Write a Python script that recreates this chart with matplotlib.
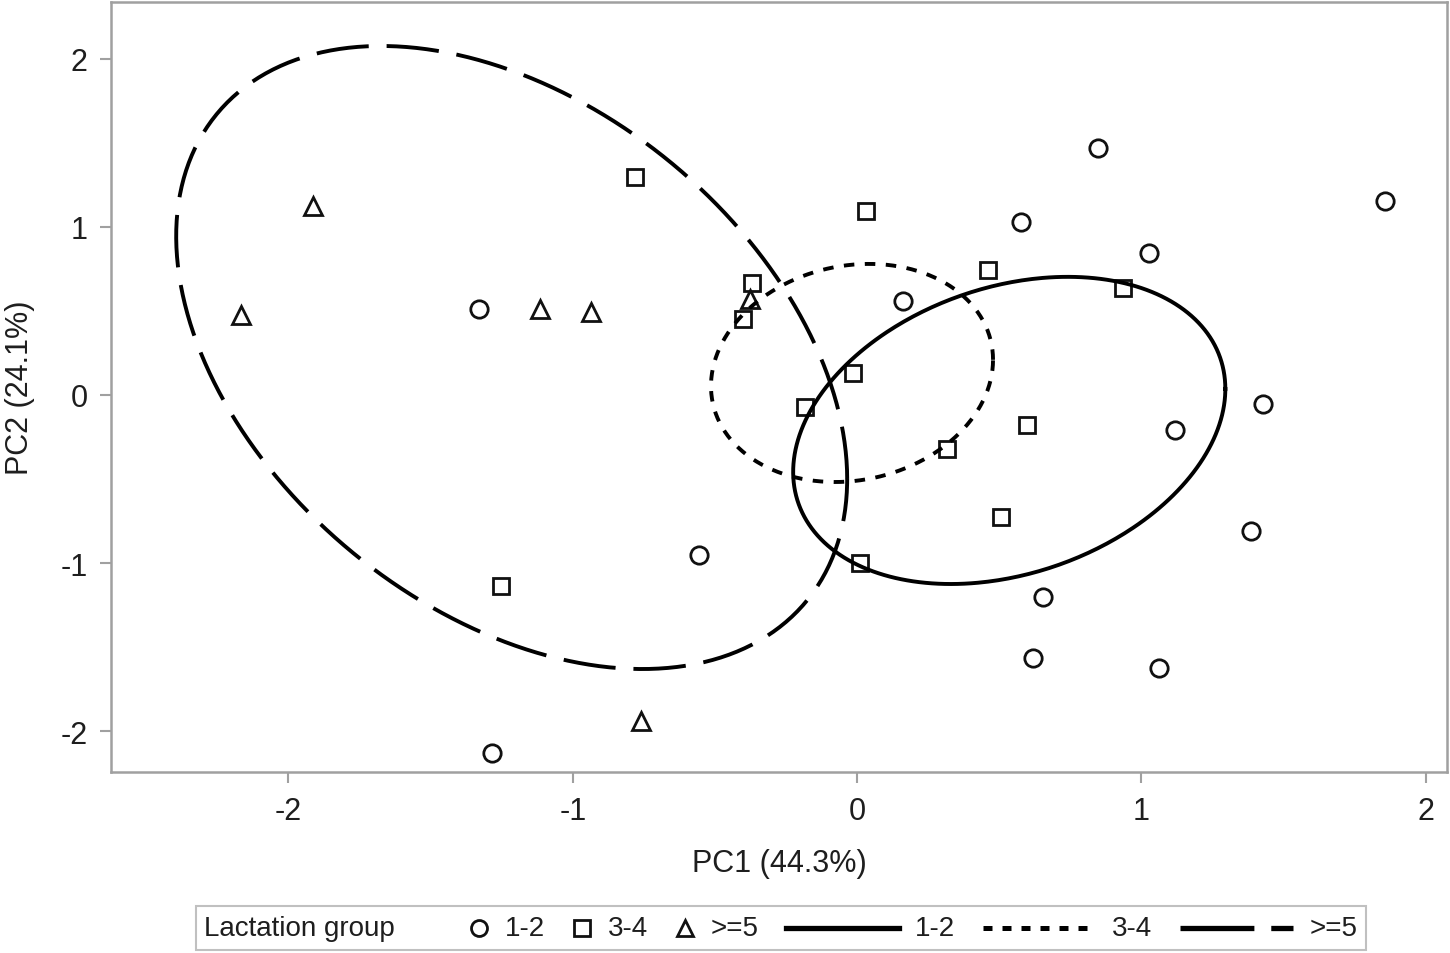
import numpy as np
import matplotlib
matplotlib.use("Agg")
import matplotlib.pyplot as plt
from matplotlib.lines import Line2D
from matplotlib.offsetbox import HPacker, TextArea, DrawingArea, AnchoredOffsetbox

plt.rcParams['font.family'] = ['Liberation Sans', 'DejaVu Sans']

# PCA scores
pc1_12 = [0.848, 1.857, 0.577, 1.027, 0.162, -1.330, 1.428, 1.119, 1.386, -0.556, 0.654, 0.619, 1.062, -1.284]
pc2_12 = [1.470, 1.155, 1.030, 0.845, 0.560, 0.512, -0.054, -0.208, -0.810, -0.952, -1.202, -1.565, -1.625, -2.131]
pc1_34 = [-0.781, 0.032, -0.369, 0.461, 0.936, -0.401, -0.014, -0.183, 0.598, 0.317, 0.507, 0.011, -1.252]
pc2_34 = [1.298, 1.095, 0.667, 0.744, 0.637, 0.452, 0.131, -0.071, -0.179, -0.321, -0.726, -1.000, -1.137]
pc1_5 = [-1.913, -2.167, -1.115, -0.936, -0.376, -0.760]
pc2_5 = [1.125, 0.476, 0.512, 0.494, 0.571, -1.940]

# confidence ellipses: centre x, centre y, half-width x, half-height y, phase
ell_12 = (0.535, -0.211, 0.760, 0.914, 1.297)
ell_34 = (-0.018, 0.131, 0.496, 0.649, 1.45)
ell_5 = (-1.215, 0.223, 1.180, 1.854, 1.971)

groups = ["1-2", "3-4", ">=5"]
txt = '#1e1e1e'
grey = '#a0a0a0'
dash_long = (0, (13.5, 4.6))
dotted = (0, (2.7, 2.7))

def ellipse_xy(p):
    cx, cy, a, b, ph = p
    t = np.linspace(0, 2 * np.pi, 400)
    return cx + a * np.cos(t), cy + b * np.cos(t - ph)

fig = plt.figure(figsize=(14.5, 9.54), dpi=100)
ax = fig.add_axes([0.0766, 0.1897, 0.9214, 0.8072])

mk = dict(linestyle='none', markerfacecolor='none', markeredgecolor='#111', markeredgewidth=2.0)
ax.plot(pc1_12, pc2_12, marker='o', markersize=12.5, **mk)
ax.plot(pc1_34, pc2_34, marker='s', markersize=12, **mk)
ax.plot(pc1_5, pc2_5, marker='^', markersize=12.5, **mk)

x, y = ellipse_xy(ell_12)
ax.plot(x, y, color='black', lw=2.8, linestyle='-')
x, y = ellipse_xy(ell_34)
ax.plot(x, y, color='black', lw=2.8, linestyle=dotted)
x, y = ellipse_xy(ell_5)
ax.plot(x, y, color='black', lw=2.8, linestyle=dash_long)

ax.set_xlim(-2.624, 2.075)
ax.set_ylim(-2.244, 2.339)
ax.set_xticks([-2, -1, 0, 1, 2])
ax.set_yticks([-2, -1, 0, 1, 2])
ax.set_xticklabels(['-2', '-1', '0', '1', '2'])
ax.set_yticklabels(['-2', '-1', '0', '1', '2'])
ax.tick_params(length=8, width=1.5, color=grey, labelsize=22, labelcolor=txt, pad=9)
for s in ax.spines.values():
    s.set_color(grey)
    s.set_linewidth(1.8)
ax.set_xlabel("PC1 (44.3%)", fontsize=22, color=txt, labelpad=16)
ax.set_ylabel("PC2 (24.1%)", fontsize=22, color=txt, labelpad=18)

# legend strip along the bottom
fs = 20
def marker_box(m, ms):
    da = DrawingArea(13, 14, 0, 0)
    da.add_artist(Line2D([6.5], [7], marker=m, markersize=ms, **mk))
    return da

def line_box(ls, lw=3.8):
    da = DrawingArea(81, 14, 0, 0)
    da.add_artist(Line2D([0, 81], [7, 7], color='black', lw=lw, linestyle=ls))
    return da

tp = dict(size=fs, color=txt)
handles = [marker_box('o', 11.5), marker_box('s', 11), marker_box('^', 11.5),
           line_box('-'), line_box((0, (1.8, 2.0)), 3.6), line_box((0, (14, 3.2, 4.6, 3.2)))]
labels = groups + groups
pairs = [HPacker(children=[h, TextArea(l, textprops=tp)], align='center', pad=0, sep=12)
         for h, l in zip(handles, labels)]
title = TextArea("Lactation group", textprops=tp)
spacer = DrawingArea(14, 1, 0, 0)
row = HPacker(children=[title, spacer] + pairs, align='center', pad=0, sep=20)
box = AnchoredOffsetbox(loc='center', child=row, pad=0.32, borderpad=0, frameon=True,
                        bbox_to_anchor=(0.5386, 0.0262), bbox_transform=fig.transFigure,
                        prop=dict(size=fs))
box.patch.set_edgecolor('#c0c0c0')
box.patch.set_linewidth(1.5)
fig.add_artist(box)

fig.savefig("out.png", dpi=100)
